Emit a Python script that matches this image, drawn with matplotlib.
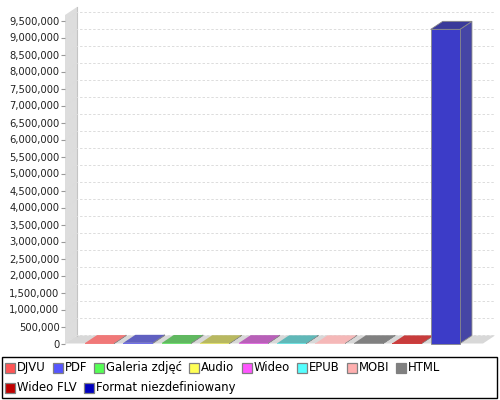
import matplotlib
matplotlib.use('Agg')
import matplotlib.pyplot as plt
from matplotlib.patches import Polygon, Rectangle
from matplotlib.lines import Line2D
from matplotlib.ticker import FuncFormatter
import matplotlib.transforms as mtransforms

# ---- data ----
categories = ['DJVU', 'PDF', 'Galeria zdjęć', 'Audio', 'Wideo', 'EPUB',
              'MOBI', 'HTML', 'Wideo FLV', 'Format niezdefiniowany']
values = [12000, 20000, 15000, 8000, 10000, 5000, 4000, 6000, 3000, 9240000]
legend_colors = ['#FF5555', '#5555FF', '#55FF55', '#FFFF55', '#FF55FF',
                 '#55FFFF', '#FFAFAF', '#808080', '#C00000', '#0000C0']
front_colors = ['#F27E7E', '#7070E8', '#70E070', '#E0E070', '#E070E0',
                '#70E0E0', '#F8C4C4', '#9A9A9A', '#D04040', '#3C3CC8']
top_colors = ['#F07878', '#6060C0', '#60B860', '#B8B860', '#B860B8',
              '#60B8B8', '#F5B8B8', '#808080', '#C83C3C', '#3A3A9A']
side_colors = ['#D06060', '#5050A8', '#50A050', '#A0A050', '#A050A0',
               '#50A0A0', '#D8A0A0', '#707070', '#B03030', '#4545A5']
tick_step = 500000
tick_max = 9500000

# ---- layout ----
W, H = 500, 400
fig = plt.figure(figsize=(W / 100, H / 100), dpi=100)
fig.patch.set_facecolor('white')
ax_left, ax_right = 65, 483
ax_bottom_px, ax_top_px = 343.5, 15
ax = fig.add_axes([ax_left / W, (H - ax_bottom_px) / H,
                   (ax_right - ax_left) / W, (ax_bottom_px - ax_top_px) / H])
ax.set_facecolor('none')
xl, xr = -0.90, 9.98
ytop = tick_max * (ax_bottom_px - ax_top_px) / 323.0
ax.set_xlim(xl, xr)
ax.set_ylim(0, ytop)
for s in ax.spines.values():
    s.set_visible(False)
ax.set_xticks([])
ticks = list(range(0, tick_max + 1, tick_step))
ax.set_yticks(ticks)
ax.yaxis.set_major_formatter(FuncFormatter(lambda v, p: f'{int(v):,}'))
ax.tick_params(axis='y', length=3, width=0.8, color='#999999', pad=1,
               labelsize=7.2, labelcolor='#222222')

# 3D offset in data units (12 px right, 8 px up)
px_x = (ax_right - ax_left) / (xr - xl)
px_y = (ax_bottom_px - ax_top_px) / ytop
ddx = 12 / px_x
ddy = 8 / px_y

# wall
ax.add_patch(Polygon([(xl, 0), (xl, ytop), (xl + ddx, ytop + ddy), (xl + ddx, ddy)],
                     closed=True, fc='#DDDDDD', ec='none', clip_on=False, zorder=1))
ax.add_line(Line2D([xl + ddx, xl + ddx], [ddy, ytop + ddy], color='#C4C4C4',
                   lw=0.8, clip_on=False, zorder=1.5))
# floor
ax.add_patch(Polygon([(xl, 0), (xr, 0), (xr + ddx, ddy), (xl + ddx, ddy)],
                     closed=True, fc='#D8D8D8', ec='none', clip_on=False, zorder=1))
# gridlines on back wall
for t in ticks:
    ax.add_line(Line2D([xl, xl + ddx, xr + ddx], [t, t + ddy, t + ddy],
                       color='#DCDCDC', lw=0.7, dashes=(2.5, 2),
                       clip_on=False, zorder=2))

# bars
bw = 0.76
for i, v in enumerate(values):
    x0, x1 = i - bw / 2, i + bw / 2
    ec = '#888888'
    ax.add_patch(Polygon([(x1, 0), (x1 + ddx, ddy), (x1 + ddx, v + ddy), (x1, v)],
                         closed=True, fc=side_colors[i], ec=ec, lw=0.6,
                         clip_on=False, zorder=3))
    ax.add_patch(Polygon([(x0, v), (x1, v), (x1 + ddx, v + ddy), (x0 + ddx, v + ddy)],
                         closed=True, fc=top_colors[i], ec=ec if v > tick_step else 'none',
                         lw=0.6, clip_on=False, zorder=3))
    if v > 0:
        ax.add_patch(Rectangle((x0, 0), bw, v, fc=front_colors[i],
                               ec=ec if v > tick_step else 'none', lw=0.6,
                               clip_on=False, zorder=4))

# ---- legend (flow layout, pixel coordinates) ----
ident = mtransforms.IdentityTransform()
fig.patches.append(Rectangle((2, H - 398), 495, 41, transform=ident,
                             fc='white', ec='black', lw=1.0, figure=fig))
renderer = fig.canvas.get_renderer()
row_y = [H - 367.8, H - 387.7]
x = 5
row = 0
for name, col in zip(categories, legend_colors):
    t = fig.text(0, 0, name, fontsize=8.4, transform=ident, va='center',
                 ha='left', color='black')
    w = t.get_window_extent(renderer).width
    if x + 12 + w > 495 and x > 5:
        row += 1
        x = 5
    t.set_position((x + 12, row_y[row]))
    fig.patches.append(Rectangle((x, row_y[row] - 5), 10, 10, transform=ident,
                                 fc=col, ec='#808080', lw=0.9, figure=fig))
    x += 12 + w + 7

fig.savefig('out.png', dpi=100)
